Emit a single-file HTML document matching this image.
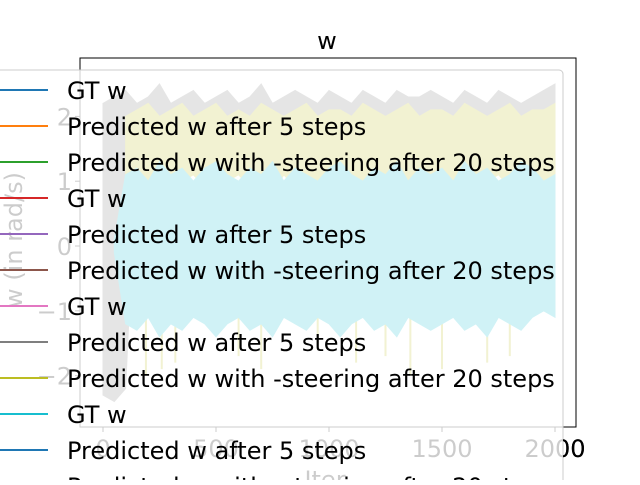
<!DOCTYPE html>
<html><head><meta charset="utf-8"><style>
body{margin:0;background:#fff;}
svg text{font-family:"DejaVu Sans","Liberation Sans",sans-serif;}
</style></head><body>
<svg id="chart" width="640" height="480" viewBox="0 0 640 480" xmlns="http://www.w3.org/2000/svg">
<defs><clipPath id="outside"><rect x="563" y="0" width="100" height="480"/></clipPath></defs>
<rect width="640" height="480" fill="#fff"/>
<text x="327" y="49" font-size="24" text-anchor="middle">w</text>
<g id="plot"></g>
<rect x="80" y="58" width="496" height="369" fill="none" stroke="#000" stroke-width="1"/>
<g id="ticks"></g>
<text x="325" y="488" font-size="24" text-anchor="middle">Iter</text>
<text transform="translate(22,240) rotate(-90)" font-size="24" text-anchor="middle">w (in rad/s)</text>
<rect x="-20" y="70" width="583" height="430" rx="4" fill="#fff" fill-opacity="0.8" stroke="#ccc" stroke-width="1"/>
<g id="legend"></g>
<g id="ticksTop" clip-path="url(#outside)"></g>
</svg>
<script>
const iters = [0,50,100,150,200,250,300,350,400,450,500,550,600,650,700,750,800,850,900,950,1000,1050,1100,1150,1200,1250,1300,1350,1400,1450,1500,1550,1600,1650,1700,1750,1800,1850,1900,1950,2000];
const grayHi = [2.2,2.3,2.4,2.2,2.3,2.5,2.2,2.3,2.4,2.2,2.3,2.4,2.2,2.3,2.5,2.2,2.3,2.4,2.3,2.2,2.4,2.3,2.2,2.4,2.3,2.2,2.4,2.3,2.3,2.4,2.3,2.2,2.4,2.3,2.2,2.4,2.3,2.2,2.3,2.4,2.5];
const grayLo = [-2.3,-2.4,-2.2,1.5,1.6,1.5,1.4,1.6,1.5,1.4,1.6,1.5,1.5,1.4,1.6,1.5,1.4,1.5,1.6,1.4,1.5,1.5,1.4,1.6,1.5,1.4,1.5,1.6,1.4,1.5,1.5,1.4,1.6,1.5,1.4,1.5,1.6,1.4,1.5,1.5,1.6];
const oliveHi = [0,0,2.0,2.1,2.2,2.0,2.1,2.2,2.0,2.1,2.2,2.0,2.1,2.0,2.2,2.1,2.0,2.1,2.2,2.0,2.1,2.1,2.0,2.2,2.1,2.0,2.1,2.2,2.0,2.1,2.1,2.0,2.2,2.1,2.0,2.1,2.2,2.0,2.1,2.1,2.2];
const oliveLo = [0,0,0.8,1.0,0.9,1.1,0.8,1.0,1.1,0.9,0.8,1.0,1.1,0.9,1.0,0.8,1.1,0.9,1.0,0.8,1.0,1.1,0.9,0.8,1.0,1.1,0.9,1.0,0.8,1.0,1.1,0.9,1.0,0.8,1.0,1.1,0.9,1.0,0.8,1.0,1.1];
const cyanHi = [0,0.1,1.1,1.2,1.0,1.3,1.1,1.2,1.0,1.2,1.3,1.1,1.0,1.2,1.1,1.3,1.0,1.2,1.1,1.0,1.2,1.3,1.1,1.0,1.2,1.1,1.3,1.0,1.2,1.1,1.2,1.0,1.3,1.1,1.2,1.0,1.1,1.3,1.2,1.0,1.1];
const cyanLo = [0,-0.1,-1.2,-1.3,-1.1,-1.4,-1.2,-1.3,-1.1,-1.2,-1.4,-1.2,-1.1,-1.3,-1.2,-1.4,-1.1,-1.2,-1.3,-1.1,-1.2,-1.4,-1.2,-1.1,-1.3,-1.2,-1.4,-1.1,-1.2,-1.3,-1.2,-1.1,-1.3,-1.2,-1.4,-1.1,-1.2,-1.3,-1.1,-1.0,-1.1];
const oliveSpikeIters = [190,260,320,600,700,950,1120,1250,1360,1500,1700,1800];
const oliveSpikeVals = [-2.0,-1.9,-1.8,-1.7,-1.9,-1.6,-1.8,-1.7,-2.0,-1.9,-1.8,-1.7];
const xTicks = [0,500,1000,1500,2000];
const yTicks = [-2,-1,0,1,2];
const yTickLabels = ["\u22122","\u22121","0","1","2"];
const legendLabels = ["GT w","Predicted w after 5 steps","Predicted w with -steering after 20 steps","GT w","Predicted w after 5 steps","Predicted w with -steering after 20 steps","GT w","Predicted w after 5 steps","Predicted w with -steering after 20 steps","GT w","Predicted w after 5 steps","Predicted w with -steering after 20 steps"];
const legendColors = ["#1f77b4","#ff7f0e","#2ca02c","#d62728","#9467bd","#8c564b","#e377c2","#7f7f7f","#bcbd22","#17becf","#1f77b4","#ff7f0e"];

const NS="http://www.w3.org/2000/svg";
const xs = v => 103 + v*(555-103)/2000;
const ys = v => 246 - v*64.8;
const plot=document.getElementById('plot');
function band(hi,lo,color,start,name){
  let pts=[];
  for(let i=start;i<iters.length;i++) pts.push(xs(iters[i])+','+ys(hi[i]));
  for(let i=iters.length-1;i>=start;i--) pts.push(xs(iters[i])+','+ys(lo[i]));
  const p=document.createElementNS(NS,'polygon');
  p.setAttribute('points',pts.join(' '));
  p.setAttribute('fill',color);
  p.setAttribute('stroke',color);
  
  
  plot.appendChild(p);
}
band(grayHi,grayLo,'#7f7f7f',0,'series-gray');
band(oliveHi,oliveLo,'#bcbd22',2,'series-olive');
for(let k=0;k<oliveSpikeIters.length;k++){
  const l=document.createElementNS(NS,'line');
  l.setAttribute('x1',xs(oliveSpikeIters[k]));l.setAttribute('x2',xs(oliveSpikeIters[k]));
  l.setAttribute('y1',ys(1));l.setAttribute('y2',ys(oliveSpikeVals[k]));
  l.setAttribute('stroke','#bcbd22');l.setAttribute('stroke-width','2');
  
  
  plot.appendChild(l);
}
band(cyanHi,cyanLo,'#17becf',1,'series-cyan');

function drawTicks(tk){
xTicks.forEach(v=>{
  const l=document.createElementNS(NS,'line');
  l.setAttribute('x1',xs(v));l.setAttribute('x2',xs(v));l.setAttribute('y1',427);l.setAttribute('y2',432);l.setAttribute('stroke','#000');
  
  
  tk.appendChild(l);
  const t=document.createElementNS(NS,'text');
  t.setAttribute('x',xs(v));t.setAttribute('y',457);t.setAttribute('font-size','24');t.setAttribute('text-anchor','middle');
  t.textContent=v;
  
  
  tk.appendChild(t);
});
yTicks.forEach((v,i)=>{
  const l=document.createElementNS(NS,'line');
  l.setAttribute('x1',75);l.setAttribute('x2',80);l.setAttribute('y1',ys(v));l.setAttribute('y2',ys(v));l.setAttribute('stroke','#000');
  
  
  tk.appendChild(l);
  const t=document.createElementNS(NS,'text');
  t.setAttribute('x',72);t.setAttribute('y',ys(v)+9);t.setAttribute('font-size','24');t.setAttribute('text-anchor','end');
  t.textContent=yTickLabels[i];
  
  
  tk.appendChild(t);
});
}
drawTicks(document.getElementById('ticks'));
drawTicks(document.getElementById('ticksTop'));
const lg=document.getElementById('legend');
legendLabels.forEach((s,i)=>{
  const y=90+i*36;
  const l=document.createElementNS(NS,'line');
  l.setAttribute('x1',0);l.setAttribute('x2',48);l.setAttribute('y1',y);l.setAttribute('y2',y);
  l.setAttribute('stroke',legendColors[i]);l.setAttribute('stroke-width','2');
  
  
  lg.appendChild(l);
  const t=document.createElementNS(NS,'text');
  t.setAttribute('x',67);t.setAttribute('y',y+9);t.setAttribute('font-size','24');
  t.textContent=s;
  
  
  lg.appendChild(t);
});
</script>
</body></html>
